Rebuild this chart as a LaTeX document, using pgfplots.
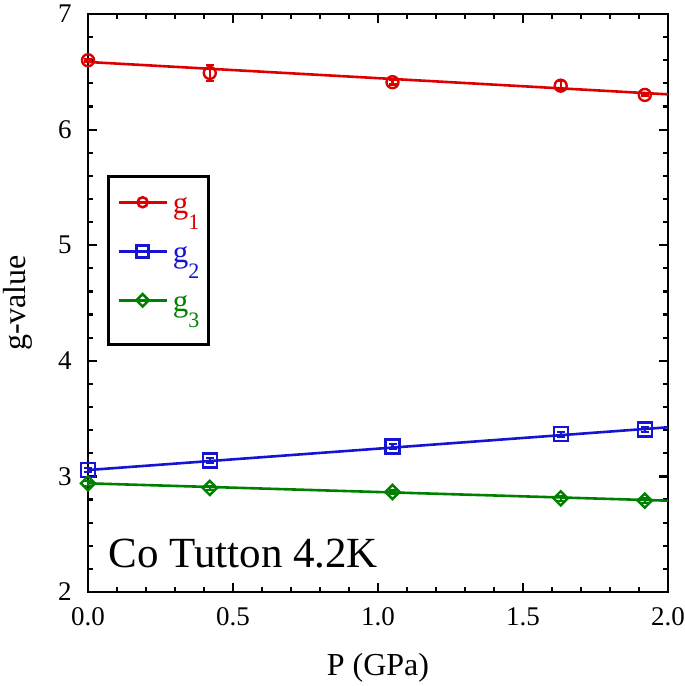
\documentclass[border=0pt]{standalone}
\usepackage{pgfplots}
\pgfplotsset{compat=1.18}
\usepackage{fontspec}
\setmainfont{Liberation Serif}
\definecolor{cred}{RGB}{220,0,0}
\definecolor{cblue}{RGB}{20,20,210}
\definecolor{cgreen}{RGB}{0,128,0}
\newcommand{\gsub}[1]{g\raisebox{-8pt}{\fontsize{11}{11}\selectfont #1}}
\begin{document}
\begin{tikzpicture}
\begin{axis}[
  scale only axis, width=290pt, height=289pt,
  xmin=0, xmax=2, ymin=2, ymax=7,
  xtick={0,0.5,1,1.5,2}, ytick={2,3,4,5,6,7},
  minor x tick num=4, minor y tick num=4,
  tick align=inside, major tick length=4.5pt, minor tick length=2.5pt,
  every tick/.style={black, line width=1.1pt},
  axis line style={line width=1.3pt},
  xticklabel style={/pgf/number format/fixed, /pgf/number format/fixed zerofill, /pgf/number format/precision=1, font=\fontsize{13.5}{15}\selectfont, inner sep=0pt, anchor=base, yshift=-16.5pt},
  yticklabel style={font=\fontsize{13.5}{15}\selectfont, inner sep=0pt, anchor=east, xshift=-8pt},
  /pgf/number format/assume math mode=true,
  xlabel={P (GPa)}, ylabel={g-value},
  xlabel style={font=\fontsize{16}{18}\selectfont, at={(axis description cs:0.5,-0.1453)}, anchor=base, inner sep=0pt},
  ylabel style={font=\fontsize{16}{18}\selectfont, at={(axis description cs:-0.107,0.5)}, anchor=base, inner sep=0pt},
  clip=false,
  legend style={at={(axis description cs:0.0328,0.7215)}, anchor=north west, draw=black, line width=1.3pt, inner xsep=4.5pt, inner ysep=6.5pt, row sep=2.5pt, column sep=2.5pt, font=\fontsize{15.5}{17}\selectfont, nodes={inner sep=0pt, text height=12pt, text depth=10pt}},
  legend cell align=left,
  legend image code/.code={\draw[mark repeat=2, mark phase=2] plot coordinates {(0pt,4.5pt) (12pt,4.5pt) (24pt,4.5pt)};},
]
% fit lines
\addplot[cred, line width=1.3pt, no marks, forget plot] coordinates {(0,6.585) (2,6.305)};
\addplot[cblue, line width=1.3pt, no marks, forget plot] coordinates {(0,3.055) (2,3.425)};
\addplot[cgreen, line width=1.3pt, no marks, forget plot] coordinates {(0,2.94) (2,2.79)};
% data
\addplot[cred, only marks, forget plot, mark=o, mark size=3pt, mark options={line width=1.2pt},
  error bars/.cd, y dir=both, y explicit, error bar style={line width=1.1pt}, error mark options={rotate=90, mark size=2pt, line width=1.1pt}]
  coordinates {(0,6.60) +- (0,0.01) (0.42,6.49) +- (0,0.07) (1.05,6.41) +- (0,0.02) (1.63,6.38) +- (0,0.04) (1.92,6.30) +- (0,0.01)};
\addplot[cblue, only marks, forget plot, mark=square, mark size=3.5pt, mark options={line width=1.2pt},
  error bars/.cd, y dir=both, y explicit, error bar style={line width=1.1pt}, error mark options={rotate=90, mark size=2pt, line width=1.1pt}]
  coordinates {(0,3.055) +- (0,0.02) (0.42,3.136) +- (0,0.02) (1.05,3.26) +- (0,0.02) (1.63,3.365) +- (0,0.02) (1.92,3.405) +- (0,0.02)};
\addplot[cgreen, only marks, forget plot, mark=square, mark size=2.5pt, mark options={line width=1.2pt, rotate=45},
  error bars/.cd, y dir=both, y explicit, error bar style={line width=1.1pt}, error mark options={rotate=90, mark size=2pt, line width=1.1pt}]
  coordinates {(0,2.94) +- (0,0.02) (0.42,2.90) +- (0,0.02) (1.05,2.865) +- (0,0.02) (1.63,2.81) +- (0,0.02) (1.92,2.79) +- (0,0.02)};
\addlegendimage{cred, line width=1.3pt, mark=o, mark size=2.5pt}
\addlegendentry{\textcolor{cred}{\gsub{1}}}
\addlegendimage{cblue, line width=1.3pt, mark=square, mark size=3pt}
\addlegendentry{\textcolor{cblue}{\gsub{2}}}
\addlegendimage{cgreen, line width=1.3pt, mark=square, mark size=2.2pt, mark options={rotate=45}}
\addlegendentry{\textcolor{cgreen}{\gsub{3}}}
\node[anchor=base west, inner sep=0pt, font=\fontsize{21.5}{24}\selectfont] at (axis cs:0.069,2.21) {Co Tutton 4.2K};
\end{axis}
\pgfresetboundingbox
\path (-44pt,-47pt) rectangle (298.5pt,296pt);
\end{tikzpicture}
\end{document}
